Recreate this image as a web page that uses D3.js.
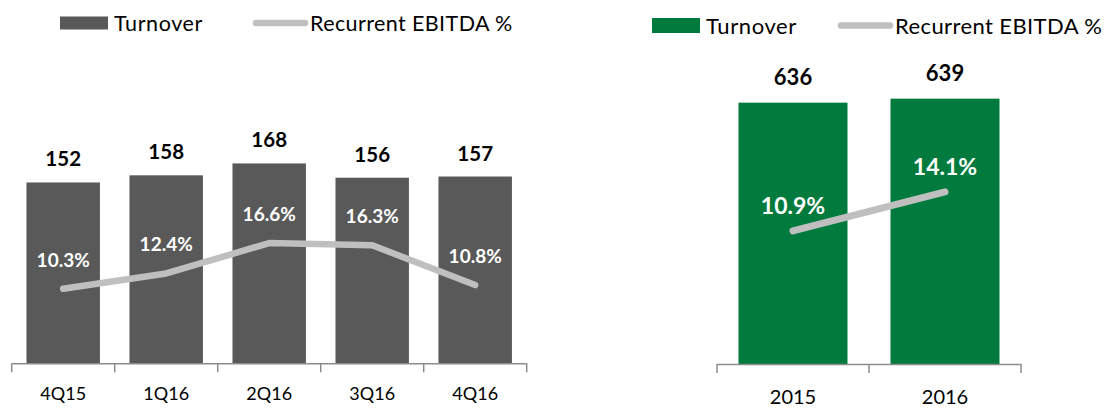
<!DOCTYPE html>
<html>
<head>
	<meta charset="utf-8" />
	<title>turnover</title>
	<script src="https://cdn.jsdelivr.net/npm/d3@7"></script>
	<style>
	body { margin: 0; background: #fff; }
	text { font-family: Lato, "Open Sans", sans-serif; }
	</style>
</head>
<body>
<div id="chart"></div>
<script>

// quarterly
const quarters = ["4Q15", "1Q16", "2Q16", "3Q16", "4Q16"];
const quarterTurnover = [152, 158, 168, 156, 157];
const quarterEbitda = [10.3, 12.4, 16.6, 16.3, 10.8];

// yearly
const years = ["2015", "2016"];
const yearTurnover = [636, 639];
const yearEbitda = [10.9, 14.1];

const legendLabels = ["Turnover", "Recurrent EBITDA %"];

const width = 1104, height = 408;
const lineColor = "#bfbfbf";
const axisColor = "#8c8c8c";

let svg = d3.select("#chart").append("svg")
	.attr("width", width)
	.attr("height", height);

function panel(opts) {
	let g = svg.append("g");

	let x = d3.scaleBand()
		.domain(opts.cats)
		.range(opts.xRange)
		.paddingInner(opts.pad)
		.paddingOuter(opts.pad / 2);

	let y = d3.scaleLinear().domain(opts.barDomain).range([opts.base, opts.top]);
	let y2 = d3.scaleLinear().domain(opts.lineDomain).range([opts.base, opts.top]);

	// bars
	g.selectAll("rect.bar")
		.data(opts.cats)
		.enter().append("rect")
		.attr("class", "bar")
		.attr("x", d => x(d))
		.attr("width", x.bandwidth())
		.attr("y", (d, i) => y(opts.bars[i]))
		.attr("height", (d, i) => opts.base - y(opts.bars[i]))
		.attr("fill", opts.barColor);

	// bar values
	g.selectAll("text.val")
		.data(opts.cats)
		.enter().append("text")
		.attr("class", "val")
		.attr("x", d => x(d) + x.bandwidth() / 2)
		.attr("y", (d, i) => y(opts.bars[i]) - opts.valGap)
		.attr("text-anchor", "middle")
		.attr("font-weight", "bold")
		.attr("font-size", opts.valSize)
		.attr("fill", "#000")
		.text((d, i) => opts.bars[i]);

	// axis: line + ticks on category borders
	g.append("line")
		.attr("x1", opts.xRange[0]).attr("x2", opts.xRange[1])
		.attr("y1", opts.base + 0.5).attr("y2", opts.base + 0.5)
		.attr("stroke", axisColor).attr("stroke-width", 1.5);
	let borders = d3.range(opts.cats.length + 1).map(i => opts.xRange[0] + i * x.step());
	g.selectAll("line.tick")
		.data(borders)
		.enter().append("line")
		.attr("class", "tick")
		.attr("x1", d => d).attr("x2", d => d)
		.attr("y1", opts.base).attr("y2", opts.base + 9)
		.attr("stroke", axisColor).attr("stroke-width", 1.5);

	let ax = g.append("g")
		.attr("transform", "translate(0," + opts.base + ")")
		.call(d3.axisBottom(x).tickSize(0).tickPadding(opts.tickPad));
	ax.select(".domain").remove();
	ax.selectAll("text")
		.attr("font-family", "Lato, sans-serif")
		.attr("font-size", opts.tickSize)
		.attr("fill", "#000");

	// ebitda line
	let line = d3.line()
		.x((d, i) => x(opts.cats[i]) + x.bandwidth() / 2)
		.y(d => y2(d));
	g.append("path")
		.datum(opts.line)
		.attr("d", line)
		.attr("fill", "none")
		.attr("stroke", lineColor)
		.attr("stroke-width", opts.lineWidth)
		.attr("stroke-linecap", "round")
		.attr("stroke-linejoin", "round");

	g.selectAll("text.pct")
		.data(opts.line)
		.enter().append("text")
		.attr("class", "pct")
		.attr("x", (d, i) => x(opts.cats[i]) + x.bandwidth() / 2)
		.attr("y", d => y2(d) - opts.pctGap)
		.attr("text-anchor", "middle")
		.attr("font-weight", "bold")
		.attr("font-size", opts.pctSize)
		.attr("fill", "#fff")
		.text(d => d.toFixed(1) + "%");

	// legend
	let lg = g.append("g");
	lg.append("rect")
		.attr("x", opts.legX).attr("y", opts.legY - opts.legSq / 2)
		.attr("width", 48).attr("height", opts.legSq)
		.attr("fill", opts.barColor);
	lg.append("text")
		.attr("x", opts.legX + 54).attr("y", opts.legY + 8)
		.attr("font-size", opts.legSize)
		.attr("letter-spacing", 0.6)
		.text(legendLabels[0]);
	lg.append("line")
		.attr("x1", opts.legX2 + 3).attr("x2", opts.legX2 + 52)
		.attr("y1", opts.legY).attr("y2", opts.legY)
		.attr("stroke", lineColor).attr("stroke-width", 6.5)
		.attr("stroke-linecap", "round");
	lg.append("text")
		.attr("x", opts.legX2 + 57).attr("y", opts.legY + 8)
		.attr("font-size", opts.legSize)
		.attr("letter-spacing", 0.4)
		.text(legendLabels[1]);
}

panel({
	cats: quarters, bars: quarterTurnover, line: quarterEbitda,
	xRange: [11.7, 526.7], pad: 0.287,
	base: 363.3, top: 125,
	barDomain: [0, 200.3], lineDomain: [0, 32.9],
	barColor: "#595959",
	valGap: 16, valSize: 20.5,
	pctGap: 22, pctSize: 19,
	tickPad: 24, tickSize: 18,
	lineWidth: 6.5,
	legX: 60, legY: 23, legSq: 13, legSize: 21.5, legX2: 253
});

panel({
	cats: years, bars: yearTurnover, line: yearEbitda,
	xRange: [717, 1021], pad: 0.283,
	base: 364, top: 104,
	barDomain: [440, 635], lineDomain: [0, 21.3],
	barColor: "#007a3d",
	valGap: 18, valSize: 22,
	pctGap: 17, pctSize: 23,
	tickPad: 26, tickSize: 20,
	lineWidth: 7,
	legX: 652, legY: 25.5, legSq: 15, legSize: 22, legX2: 838
});

</script>
</body>
</html>
